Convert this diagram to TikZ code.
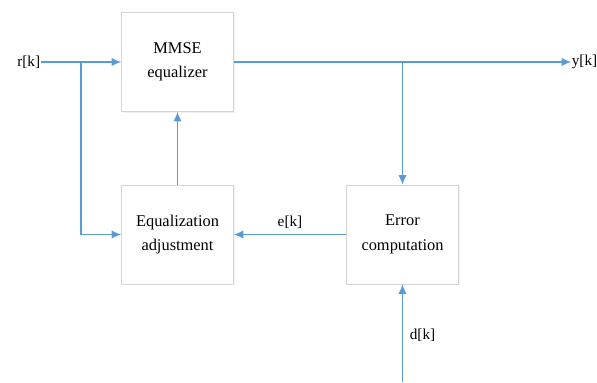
\documentclass[tikz,border=0pt]{standalone}
\usepackage{fontspec}
\setmainfont{Liberation Serif}
\usetikzlibrary{arrows.meta,shadows}
\definecolor{linkblue}{HTML}{5B9BD5}
\definecolor{boxgray}{HTML}{D4D4D4}
\begin{document}
\begin{tikzpicture}[x=0.03cm,y=-0.03cm,
    blk/.style={draw=boxgray,fill=white,line width=0.8pt,minimum width=3.36cm,minimum height=2.97cm,
      align=center,inner sep=0pt,font=\fontsize{14}{21}\selectfont,
      drop shadow={opacity=0.12,shadow xshift=1pt,shadow yshift=-1pt}},
    sig/.style={draw=linkblue,line width=0.9pt,-{Latex[length=8pt,width=7pt]}},
    lab/.style={inner sep=0.5pt,font=\fontsize{13}{16}\selectfont}]
    \useasboundingbox (0,0) rectangle (597,382);
    % blocks
    \node[blk] (mmse) at (177.5,62) {MMSE\\equalizer};
    \node[blk] (adj) at (177.5,234.5) {Equalization\\adjustment};
    \node[blk] (err) at (402.5,234.5) {Error\\computation};
    % signals
    \node[lab,anchor=east] (r) at (41,62) {r[k]};
    \node[lab,anchor=west] (y) at (571,62) {y[k]};
    \node[lab,anchor=south] (e) at (290,229) {e[k]};
    \node[lab,anchor=west] (d) at (409,335) {d[k]};
    \coordinate (rsplit) at (81,62);
    \coordinate (ysplit) at (402.5,62);
    \coordinate (din) at (402.5,382);
    \draw[sig] (r) -- (mmse);
    \draw[sig] (rsplit) |- (adj);
    \draw[sig] (mmse) -- (y);
    \draw[sig] (ysplit) -- (err);
    \draw[sig] (adj) -- (mmse);
    \draw[sig] (err) -- (adj);
    \draw[sig] (din) -- (err);
\end{tikzpicture}
\end{document}
